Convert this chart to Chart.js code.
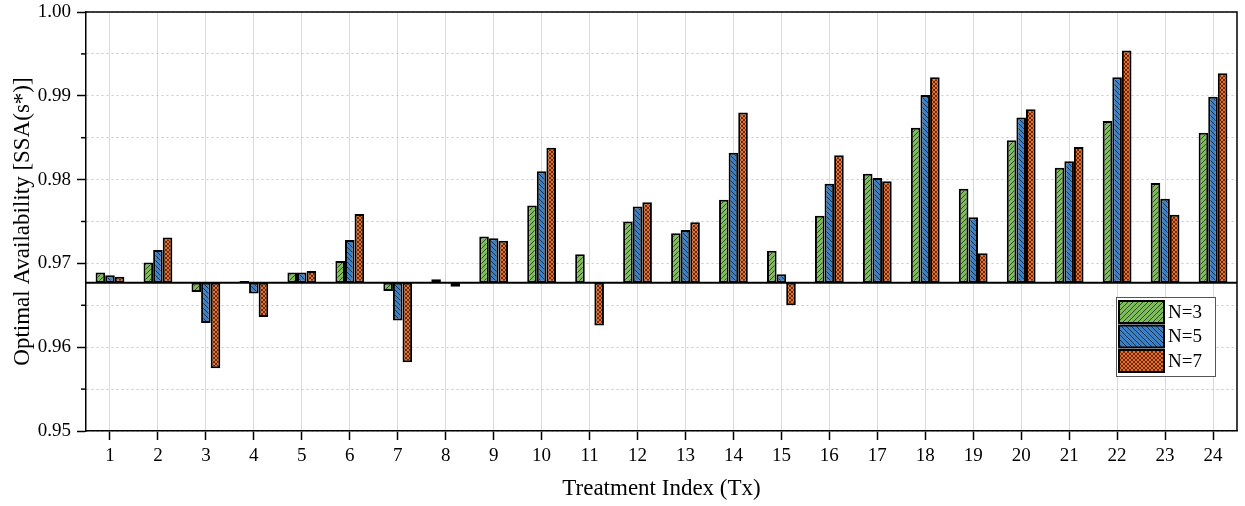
<!DOCTYPE html>
<html>
<head>
<meta charset="utf-8">
<script src="https://cdn.jsdelivr.net/npm/chart.js@4.4.0/dist/chart.umd.min.js"></script>
<style>
  html, body { margin: 0; padding: 0; background: #fff; }
</style>
</head>
<body>
<canvas id="grafico" width="1245" height="506"></canvas>
<script>
// dados
const categorias = ["1","2","3","4","5","6","7","8","9","10","11","12","13","14","15","16","17","18","19","20","21","22","23","24"];
const serieN3 = [0.9689,0.9701,0.9666,0.9679,0.9689,0.9703,0.9667,0.9681,0.9732,0.9769,0.9711,0.9750,0.9736,0.9776,0.9715,0.9757,0.9807,0.9862,0.9789,0.9847,0.9814,0.9870,0.9796,0.9856];
const serieN5 = [0.9686,0.9716,0.9629,0.9664,0.9689,0.9728,0.9632,0.9677,0.9730,0.9810,0.9677,0.9768,0.9740,0.9832,0.9687,0.9795,0.9802,0.9901,0.9755,0.9874,0.9822,0.9922,0.9777,0.9899];
const serieN7 = [0.9684,0.9731,0.9575,0.9636,0.9691,0.9759,0.9582,0.9672,0.9727,0.9838,0.9626,0.9773,0.9749,0.9880,0.9650,0.9829,0.9798,0.9922,0.9712,0.9884,0.9839,0.9954,0.9758,0.9927];
const nomesSeries = ["N=3", "N=5", "N=7"];
const linhaBase = 0.9677;
const yMin = 0.95;
const yMax = 1.00;
const yPasso = 0.005;

const fonte = "'Liberation Serif', 'Times New Roman', serif";
Chart.defaults.font.family = fonte;
Chart.defaults.color = "#000";

// padroes de hachura
function hachura(cor, tipo) {
  const s = tipo === "cruz" ? 4 : 5;
  const c = document.createElement("canvas");
  c.width = s; c.height = s;
  const g = c.getContext("2d");
  g.fillStyle = cor;
  g.fillRect(0, 0, s, s);
  g.strokeStyle = "rgba(0,0,0,0.6)";
  g.lineWidth = 1;
  function barra() {
    g.beginPath();
    g.moveTo(-1, s + 1); g.lineTo(s + 1, -1);
    g.moveTo(-1, 1); g.lineTo(1, -1);
    g.moveTo(s - 1, s + 1); g.lineTo(s + 1, s - 1);
    g.stroke();
  }
  function contraBarra() {
    g.beginPath();
    g.moveTo(-1, -1); g.lineTo(s + 1, s + 1);
    g.moveTo(s - 1, -1); g.lineTo(s + 1, 1);
    g.moveTo(-1, s - 1); g.lineTo(1, s + 1);
    g.stroke();
  }
  if (tipo === "barra") barra();
  else if (tipo === "contra") contraBarra();
  else { barra(); contraBarra(); }
  return g.createPattern(c, "repeat");
}

const ctx = document.getElementById("grafico").getContext("2d");
const padroes = [
  hachura("#7cbd5a", "barra"),
  hachura("#3b7fc4", "contra"),
  hachura("#f46c1e", "cruz")
];
const series = [serieN3, serieN5, serieN7];

function ehMaior(v) {
  return Math.round(v * 1000) % 10 === 0;
}

// linha de base, ticks menores, moldura e legenda
const extras = {
  id: "extras",
  afterDatasetsDraw(chart) {
    const c = chart.ctx;
    const a = chart.chartArea;
    const y = chart.scales.y;
    c.save();
    c.strokeStyle = "#000";
    c.lineWidth = 2;
    const yb = y.getPixelForValue(linhaBase);
    c.beginPath();
    c.moveTo(a.left, yb);
    c.lineTo(a.right, yb);
    c.stroke();

    c.lineWidth = 1.5;
    for (let v = yMin + yPasso; v < yMax; v += 2 * yPasso) {
      const py = y.getPixelForValue(v);
      c.beginPath();
      c.moveTo(a.left - 5, py);
      c.lineTo(a.left, py);
      c.stroke();
    }
    c.beginPath();
    c.moveTo(a.left, a.top);
    c.lineTo(a.right, a.top);
    c.lineTo(a.right, a.bottom);
    c.stroke();
    c.restore();
  },
  afterDraw(chart) {
    const c = chart.ctx;
    const a = chart.chartArea;
    const x0 = a.right - 121;
    const y0 = a.bottom - 134;
    c.save();
    c.fillStyle = "#fff";
    c.fillRect(x0, y0, 99, 79);
    c.strokeStyle = "#555";
    c.lineWidth = 1;
    c.strokeRect(x0 + 0.5, y0 + 0.5, 99, 79);
    c.font = "19px " + fonte;
    c.textBaseline = "middle";
    c.textAlign = "left";
    nomesSeries.forEach((nome, i) => {
      const sy = y0 + 4 + i * 24.5;
      c.fillStyle = padroes[i];
      c.fillRect(x0 + 3, sy, 45, 22);
      c.strokeStyle = "#000";
      c.lineWidth = 2;
      c.strokeRect(x0 + 3, sy, 45, 22);
      c.fillStyle = "#000";
      c.fillText(nome, x0 + 52, sy + 12);
    });
    c.restore();
  }
};

new Chart(ctx, {
  type: "bar",
  data: {
    labels: categorias,
    datasets: series.map((s, i) => ({
      label: nomesSeries[i],
      data: s.map(v => [linhaBase, v]),
      backgroundColor: padroes[i],
      borderColor: "#000",
      borderWidth: 2,
      borderSkipped: false,
      categoryPercentage: 0.6,
      barPercentage: 1.0
    }))
  },
  options: {
    responsive: false,
    animation: false,
    devicePixelRatio: 1,
    layout: { padding: { top: 12, right: 8, left: 0, bottom: 0 } },
    plugins: {
      legend: { display: false },
      tooltip: { enabled: false }
    },
    scales: {
      x: {
        afterFit(scale) {
          scale.height = 75;
          scale.paddingLeft = 0;
          scale.paddingRight = 0;
        },
        grid: {
          offset: false,
          color: "#dadada",
          lineWidth: 1,
          tickColor: "#000",
          tickLength: 9,
          tickWidth: 1.5
        },
        border: { color: "#000", width: 1.5 },
        ticks: { font: { size: 19 }, padding: 5, autoSkip: false, maxRotation: 0 },
        title: {
          display: true,
          text: "Treatment Index (Tx)",
          font: { size: 23 },
          padding: { top: 0, bottom: 3 }
        }
      },
      y: {
        min: yMin,
        max: yMax,
        afterFit(scale) {
          scale.width = 86;
          scale.paddingTop = 0;
          scale.paddingBottom = 0;
        },
        grid: {
          color: "#c8c8c8",
          lineWidth: 1,
          tickLength: 9,
          tickWidth: 1.5,
          tickColor: c => (c.tick && ehMaior(c.tick.value)) ? "#000" : "rgba(0,0,0,0)"
        },
        border: { color: "#000", width: 1.5, dash: [2, 3] },
        ticks: {
          stepSize: yPasso,
          font: { size: 19 },
          padding: 6,
          callback: v => ehMaior(v) ? (Math.round(v * 100) / 100).toFixed(2) : ""
        },
        title: {
          display: true,
          text: "Optimal Availability [SSA(s*)]",
          font: { size: 23 },
          padding: { top: 9, bottom: 0 }
        }
      }
    }
  },
  plugins: [extras]
});
</script>
</body>
</html>
